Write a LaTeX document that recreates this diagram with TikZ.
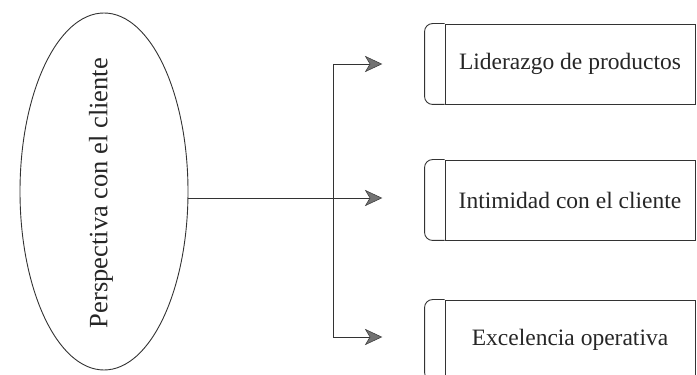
\documentclass[tikz,border=0pt]{standalone}
\usepackage{fontspec}
\setmainfont{Liberation Serif}
\usetikzlibrary{shapes.geometric}
\begin{document}
\begin{tikzpicture}[x=1pt,y=1pt,
  line/.style={draw=black!80,line width=0.9pt},
  tiphead/.style={fill=black!55,draw=black!75,line width=0.6pt,line join=miter},
  choice/.style={line,rectangle,minimum width=250pt,minimum height=80pt,
    inner sep=0pt,font=\fontsize{23.5}{26}\selectfont,text=black!85},
  goal/.style={line,ellipse,minimum width=168pt,minimum height=357pt,inner sep=0pt}]
\useasboundingbox (0,0) rectangle (697,375);
% central perspective
\node[goal] (e) at (104,183.5) {};
\node[rotate=90,font=\fontsize{26.5}{30}\selectfont,text=black!85] (et) at (101,182) {Perspectiva con el cliente};
% the three strategic choices
\node[choice] (b1) at (570,311) {Liderazgo de productos};
\node[choice] (b2) at (570,175) {Intimidad con el cliente};
\node[choice] (b3) at (570,35) {Excelencia operativa};
\foreach \b in {b1,b2,b3}
  \draw[line,rounded corners=8pt] (\b.north west) -- ++(-20,0) |- (\b.south west);
% connectors
\coordinate (hub) at (333,177);
\coordinate (t1) at (333,311);
\coordinate (t3) at (333,38);
\coordinate (a1) at ([xshift=-63pt]b1.west);
\coordinate (a2) at ([xshift=-63pt]b2.west |- hub);
\coordinate (a3) at ([xshift=-63pt]b3.west |- t3);
\draw[line] ([yshift=-6.5pt]e.east) -- (hub);
\draw[line] (t1) -- (t3);
\foreach \s/\t in {hub/a2,t1/a1,t3/a3}{
  \draw[line] (\s) -- ([xshift=-11pt]\t);
  \draw[tiphead] (\t) -- ++(-16,7.5) -- ++(4.5,-7.5) -- ++(-4.5,-7.5) -- cycle;
}
\end{tikzpicture}
\end{document}
